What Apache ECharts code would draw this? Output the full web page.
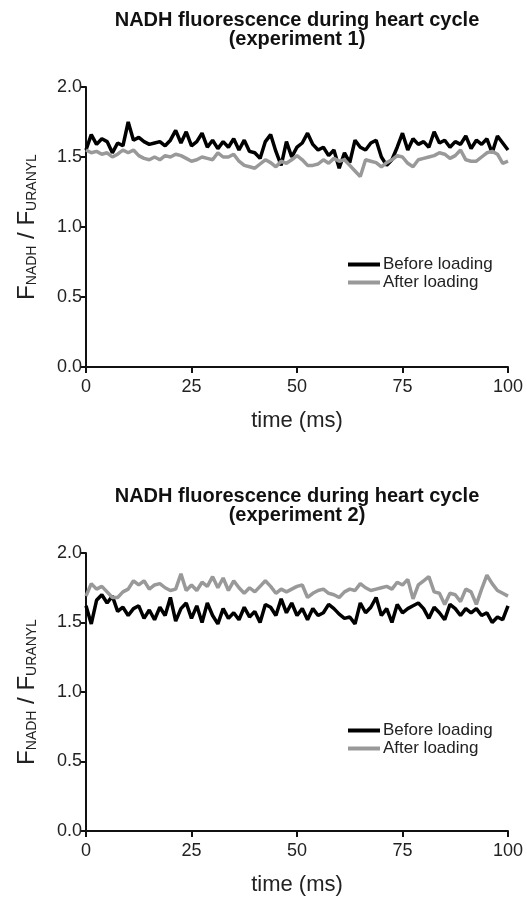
<!DOCTYPE html>
<html>
<head>
<meta charset="utf-8">
<script src="https://cdn.jsdelivr.net/npm/echarts@6/dist/echarts.min.js"></script>
<style>
  html, body { margin: 0; padding: 0; background: #fff; }
  #chart { width: 527px; height: 897px; }
</style>
</head>
<body>
<div id="chart"></div>
<script>
// ── NADH fluorescence, two experiments stacked ──

const FONT = '"Liberation Sans", Arial, sans-serif';

// sample times (ms), one reading every 1.25 ms
const timeMs = Array.from({ length: 81 }, (_, i) => i * 1.25);

const yTicks = [0, 0.5, 1.0, 1.5, 2.0];
const xTicks = [0, 25, 50, 75, 100];
const seriesNames = ['Before loading', 'After loading'];

// experiment 1
const exp1Before = [
  1.55, 1.66, 1.59, 1.63, 1.61, 1.53, 1.60, 1.58, 1.75, 1.62,
  1.64, 1.61, 1.59, 1.60, 1.61, 1.58, 1.62, 1.69, 1.60, 1.68,
  1.58, 1.61, 1.67, 1.57, 1.62, 1.56, 1.61, 1.57, 1.63, 1.55,
  1.62, 1.54, 1.53, 1.49, 1.61, 1.66, 1.54, 1.44, 1.61, 1.50,
  1.57, 1.60, 1.67, 1.59, 1.55, 1.57, 1.51, 1.55, 1.42, 1.53,
  1.46, 1.62, 1.57, 1.55, 1.60, 1.62, 1.50, 1.44, 1.48, 1.57,
  1.67, 1.55, 1.63, 1.59, 1.61, 1.57, 1.68, 1.60, 1.62, 1.57,
  1.61, 1.59, 1.65, 1.56, 1.62, 1.59, 1.63, 1.53, 1.65, 1.60,
  1.55
];
const exp1After = [
  1.55, 1.53, 1.54, 1.52, 1.53, 1.50, 1.52, 1.55, 1.53, 1.55,
  1.51, 1.49, 1.48, 1.50, 1.48, 1.51, 1.50, 1.52, 1.51, 1.49,
  1.47, 1.48, 1.50, 1.49, 1.48, 1.53, 1.50, 1.50, 1.52, 1.47,
  1.44, 1.43, 1.42, 1.45, 1.48, 1.46, 1.43, 1.47, 1.455, 1.48,
  1.51, 1.48, 1.44, 1.44, 1.45, 1.48, 1.455, 1.49, 1.47, 1.48,
  1.44, 1.40, 1.36, 1.48, 1.47, 1.46, 1.43, 1.46, 1.48, 1.51,
  1.50, 1.455, 1.43, 1.48, 1.49, 1.50, 1.51, 1.53, 1.52, 1.49,
  1.51, 1.55, 1.48, 1.47, 1.47, 1.50, 1.53, 1.54, 1.52, 1.455,
  1.47
];

// experiment 2
const exp2Before = [
  1.62, 1.49, 1.66, 1.70, 1.64, 1.69, 1.58, 1.61, 1.55, 1.60,
  1.62, 1.53, 1.59, 1.52, 1.61, 1.55, 1.68, 1.51, 1.60, 1.64,
  1.53, 1.62, 1.50, 1.64, 1.55, 1.49, 1.60, 1.53, 1.57, 1.52,
  1.61, 1.54, 1.58, 1.50, 1.63, 1.61, 1.55, 1.67, 1.57, 1.64,
  1.55, 1.60, 1.52, 1.60, 1.55, 1.57, 1.63, 1.60, 1.56, 1.53,
  1.54, 1.49, 1.64, 1.57, 1.61, 1.68, 1.55, 1.60, 1.50, 1.63,
  1.57, 1.60, 1.62, 1.64, 1.60, 1.53, 1.61, 1.57, 1.52, 1.63,
  1.60, 1.55, 1.60, 1.57, 1.60, 1.55, 1.57, 1.50, 1.54, 1.52,
  1.62
];
const exp2After = [
  1.69, 1.78, 1.74, 1.76, 1.72, 1.68, 1.68, 1.72, 1.74, 1.80,
  1.77, 1.80, 1.74, 1.77, 1.78, 1.75, 1.73, 1.74, 1.85, 1.73,
  1.77, 1.73, 1.79, 1.76, 1.83, 1.75, 1.82, 1.73, 1.80, 1.75,
  1.71, 1.75, 1.72, 1.76, 1.80, 1.76, 1.71, 1.74, 1.72, 1.74,
  1.76, 1.77, 1.68, 1.71, 1.73, 1.74, 1.71, 1.70, 1.68, 1.72,
  1.74, 1.73, 1.78, 1.75, 1.73, 1.74, 1.75, 1.76, 1.74, 1.79,
  1.77, 1.81, 1.67, 1.77, 1.80, 1.83, 1.72, 1.71, 1.63, 1.71,
  1.70, 1.65, 1.74, 1.72, 1.63, 1.74, 1.84, 1.78, 1.73, 1.71,
  1.69
];

const titles = [
  'NADH fluorescence during heart cycle\n(experiment 1)',
  'NADH fluorescence during heart cycle\n(experiment 2)'
];

const pairs = vals => vals.map((v, i) => [timeMs[i], v]);

// panel geometry
const PANEL_TOP = [87, 553];
const PLOT_LEFT = 86, PLOT_W = 422, PLOT_H = 280;

function xAxisFor(i) {
  return {
    gridIndex: i, type: 'value', min: xTicks[0], max: xTicks[xTicks.length - 1], interval: 25,
    name: 'time (ms)', nameLocation: 'middle', nameGap: 43,
    nameTextStyle: { fontFamily: FONT, fontSize: 22, color: '#222' },
    axisLine: { onZero: false, lineStyle: { color: '#111', width: 2 } },
    axisTick: { length: 6, lineStyle: { color: '#111', width: 2 } },
    axisLabel: { fontFamily: FONT, fontSize: 18, color: '#222', margin: 11 },
    splitLine: { show: false },
  };
}

function yAxisFor(i) {
  return {
    gridIndex: i, type: 'value', min: yTicks[0], max: yTicks[yTicks.length - 1], interval: 0.5,
    name: '{b|F}{s|NADH}{b| / F}{s|URANYL}', nameLocation: 'middle', nameGap: 47, nameRotate: 90,
    nameTextStyle: {
      rich: {
        b: { fontFamily: FONT, fontSize: 24, color: '#222', lineHeight: 30, verticalAlign: 'bottom' },
        s: { fontFamily: FONT, fontSize: 14, color: '#222', lineHeight: 11, verticalAlign: 'bottom' },
      },
    },
    axisLine: { show: true, lineStyle: { color: '#111', width: 2 } },
    axisTick: { show: true, length: 6, lineStyle: { color: '#111', width: 2 } },
    axisLabel: { fontFamily: FONT, fontSize: 18, color: '#222', margin: 4, formatter: v => v.toFixed(1) },
    splitLine: { show: false },
  };
}

function lineSeries(name, idx, vals, color) {
  return {
    name, type: 'line', xAxisIndex: idx, yAxisIndex: idx,
    data: pairs(vals), showSymbol: false, symbol: 'none', smooth: false,
    lineStyle: { color, width: 3.5 }, itemStyle: { color },
    animation: false,
  };
}

const chart = echarts.init(document.getElementById('chart'), null, { renderer: 'canvas' });
chart.setOption({
  backgroundColor: '#fff',
  animation: false,
  title: titles.map((t, i) => ({
    text: t, left: 297, top: i === 0 ? 11 : 487, textAlign: 'center', padding: 0,
    textStyle: { fontFamily: FONT, fontSize: 20, fontWeight: 'bold', color: '#111', lineHeight: 19 },
  })),
  legend: PANEL_TOP.map((top, i) => ({
    data: seriesNames, orient: 'vertical', left: 348, top: top + 169, padding: 0,
    icon: 'rect', itemWidth: 32, itemHeight: 4, itemGap: 1,
    textStyle: { fontFamily: FONT, fontSize: 17, color: '#222', lineHeight: 17, padding: [0, 0, 0, -2] },
    selectedMode: false,
  })),
  grid: PANEL_TOP.map(top => ({ left: PLOT_LEFT, top, width: PLOT_W, height: PLOT_H, containLabel: false })),
  xAxis: [xAxisFor(0), xAxisFor(1)],
  yAxis: [yAxisFor(0), yAxisFor(1)],
  series: [
    lineSeries(seriesNames[0], 0, exp1Before, '#000'),
    lineSeries(seriesNames[1], 0, exp1After, '#999'),
    lineSeries(seriesNames[0], 1, exp2Before, '#000'),
    lineSeries(seriesNames[1], 1, exp2After, '#999'),
  ],
});
</script>
</body>
</html>
